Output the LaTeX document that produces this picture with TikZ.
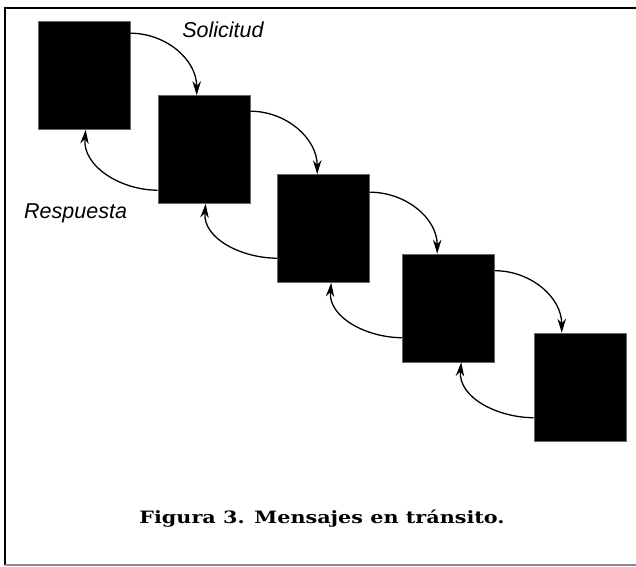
\documentclass[tikz,border=0pt]{standalone}
\usepackage{fontspec}
\setmainfont{Liberation Sans}
\newfontfamily\capfont[FakeStretch=1.22]{DejaVu Serif}
\usetikzlibrary{arrows.meta}
\tikzset{
  blk/.style={fill=black,draw=black!60,line width=0.6pt,minimum width=92pt,minimum height=108pt,inner sep=0pt},
  msg/.style={line width=1.3pt,-{Stealth[length=14pt,width=8.5pt]}},
  lbl/.style={font=\fontsize{21.5}{24}\selectfont\itshape,inner sep=0pt},
  captxt/.style={font=\fontsize{17}{20}\selectfont\capfont\bfseries,inner sep=0pt}
}
\begin{document}
\begin{tikzpicture}[x=1pt,y=-1pt]
\useasboundingbox (0,0) rectangle (636,566);
% frame
\draw[line width=1.6pt] (5,565) -- (5,8) -- (636,8);
\draw[black!45,line width=1.4pt] (5,565) -- (636,565);
% boxes
\node[blk] (b1) at (84,75.5) {};
\node[blk] (b2) at (204,149.5) {};
\node[blk] (b3) at (323.5,228.5) {};
\node[blk] (b4) at (448.5,308) {};
\node[blk] (b5) at (580,387) {};
% requests
\draw[msg] ([yshift=-12pt]b1.north east) to[out=0,in=90] ([xshift=39pt]b2.north west);
\draw[msg] ([yshift=-16pt]b2.north east) to[out=0,in=90] ([xshift=40pt]b3.north west);
\draw[msg] ([yshift=-18pt]b3.north east) to[out=0,in=90] ([xshift=35pt]b4.north west);
\draw[msg] ([yshift=-17pt]b4.north east) to[out=0,in=90] ([xshift=28pt]b5.north west);
% responses
\draw[msg] ([yshift=-95pt]b2.north west) to[out=180,in=-95] ([xshift=48pt]b1.south west);
\draw[msg] ([yshift=-84pt]b3.north west) to[out=180,in=-95] ([xshift=48pt]b2.south west);
\draw[msg] ([yshift=-84pt]b4.north west) to[out=180,in=-95] ([xshift=54pt]b3.south west);
\draw[msg] ([yshift=-85pt]b5.north west) to[out=180,in=-95] ([xshift=59pt]b4.south west);
% labels
\node[lbl,anchor=base] (sol) at (223,37) {Solicitud};
\node[lbl,anchor=base west] (resp) at (24,218) {Respuesta};
\node[captxt,anchor=base] (caption) at (322,523) {Figura 3. Mensajes en tránsito.};
\end{tikzpicture}
\end{document}
